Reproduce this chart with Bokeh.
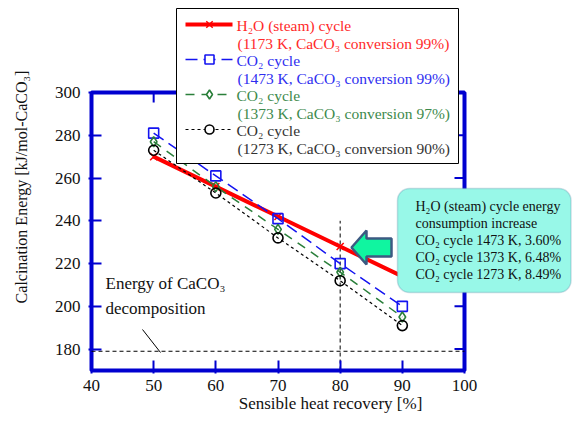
from bokeh.plotting import figure
from bokeh.models import Range1d, FixedTicker, BoxAnnotation
from bokeh.core.properties import value
from bokeh.embed import file_html
from bokeh.resources import INLINE

# ---------------- data ----------------
recovery = [50, 60, 70, 80, 90]
h2o_1173 = [270, 256, 242, 228, 214]
co2_1473 = [281, 261, 241, 220, 200]
co2_1373 = [277, 256, 236, 216, 195]
co2_1273 = [273, 253, 232, 212, 191]
x_ticks = [40, 50, 60, 70, 80, 90, 100]
y_ticks = [180, 200, 220, 240, 260, 280, 300]
decomp_energy = 179
ref_line_x = 80
ref_line_top = 240
legend_lines = [
    ("H₂O (steam) cycle", "(1173 K, CaCO₃ conversion 99%)"),
    ("CO₂ cycle", "(1473 K, CaCO₃ conversion 99%)"),
    ("CO₂ cycle", "(1373 K, CaCO₃ conversion 97%)"),
    ("CO₂ cycle", "(1273 K, CaCO₃ conversion 90%)"),
]
callout_lines = [
    "H₂O (steam) cycle energy",
    "consumption increase",
    "CO₂ cycle 1473 K, 3.60%",
    "CO₂ cycle 1373 K, 6.48%",
    "CO₂ cycle 1273 K, 8.49%",
]

# ---------------- helpers: canvas pixel -> data (decorations only) ----------------
def X(px):
    return 40 + (px - 91) * 60.0 / (464 - 91)

def Y(py):
    return 300 - (py - 92) * 130.0 / (370 - 92)

FRAME = "#0000D0"
SERIF = "Liberation Serif"
W, H = 572, 417

p = figure(width=W, height=H,
           x_range=Range1d(X(88), X(W)), y_range=Range1d(Y(373), Y(0)),
           output_backend="svg", toolbar_location=None,
           min_border_left=88, min_border_right=0, min_border_top=0, min_border_bottom=H - 373)
p.outline_line_color = None
p.xgrid.visible = False
p.ygrid.visible = False
p.background_fill_color = "white"
p.border_fill_color = "white"

for ax, ticks in ((p.xaxis, x_ticks), (p.yaxis, y_ticks)):
    ax.ticker = FixedTicker(ticks=ticks)
    ax.axis_line_color = None
    ax.major_tick_in = 13
    ax.major_tick_out = 0
    ax.major_tick_line_color = FRAME
    ax.major_tick_line_width = 2
    ax.minor_tick_line_color = None
    ax.major_label_text_font = SERIF
    ax.major_label_text_font_size = "17px"
    ax.major_label_text_color = "#111111"
    ax.axis_label_text_font = SERIF
    ax.axis_label_text_font_style = "normal"
    ax.axis_label_text_color = "#111111"

p.xaxis.major_label_standoff = 6
p.xaxis.axis_label = "Sensible heat recovery [%]"
p.xaxis.axis_label_text_font_size = "17px"
p.xaxis.axis_label_standoff = 0
p.xaxis.bounds = (39.9, 103.16)

p.yaxis.major_label_standoff = 8
p.yaxis.axis_label = "Calcination Energy [kJ/mol-CaCO₃]"
p.yaxis.axis_label_text_font_size = "16px"
p.yaxis.axis_label_standoff = 22
p.yaxis.bounds = (175, 319.3)

# frame box (blue)
p.quad(left=[x_ticks[0]], right=[x_ticks[-1]], bottom=[170], top=[y_ticks[-1]],
       fill_color=None, line_color=FRAME, line_width=4)
# mirrored inward ticks on top and right
tick_dy = Y(92) - Y(102)
tick_dx = X(464) - X(454)
top_ticks = x_ticks[1:-1]
p.segment(x0=top_ticks, y0=[300] * len(top_ticks), x1=top_ticks,
          y1=[300 - tick_dy] * len(top_ticks), line_color=FRAME, line_width=2)
p.segment(x0=[100] * len(y_ticks), y0=y_ticks, x1=[100 - tick_dx] * len(y_ticks), y1=y_ticks,
          line_color=FRAME, line_width=2)

# reference lines
p.segment(x0=[40], y0=[decomp_energy], x1=[100], y1=[decomp_energy],
          line_color="black", line_width=1, line_dash="4 3")
p.segment(x0=[ref_line_x], y0=[170], x1=[ref_line_x], y1=[ref_line_top],
          line_color="black", line_width=1, line_dash="4 3")
p.segment(x0=[X(142)], y0=[Y(329)], x1=[X(160)], y1=[Y(352)], line_color="black", line_width=1)
p.text(x=[X(105), X(105)], y=[Y(283), Y(308)], text=["Energy of CaCO₃", "decomposition"],
       text_font=value(SERIF), text_font_size=value("17px"), text_color="#111111",
       text_baseline="middle", text_align="left")

# ---------------- series ----------------
series = [
    (h2o_1173, "#FF0000", 4, "solid", "x", 10, "#FF2A2A"),
    (co2_1473, "#1414F0", 1.5, "12 6", "square", 10, "#2E2EF0"),
    (co2_1373, "#2A7F3A", 1.5, "9 7", "diamond", 10, "#3D8A4C"),
    (co2_1273, "#000000", 1.2, "3 3", "circle", 10, "#333333"),
]
for vals, col, lw, dash, mk, sz, _ in series:
    p.line(recovery, vals, line_color=col, line_width=lw, line_dash=dash)
    p.scatter(recovery, vals, marker=mk, size=sz, line_color=col, fill_color=None,
              line_width=1.6 if mk != "x" else 1.5)

# ---------------- legend (drawn) ----------------
p.quad(left=[X(176)], right=[X(458)], bottom=[Y(163)], top=[Y(8)],
       fill_color="white", line_color="black", line_width=1)
row_y = [24, 59, 94, 129]
for (vals, col, lw, dash, mk, sz, tcol), ry, (l1, l2) in zip(series, row_y, legend_lines):
    p.line([X(185), X(232)], [Y(ry), Y(ry)], line_color=col, line_width=lw, line_dash=dash)
    p.scatter([X(209)], [Y(ry)], marker=mk, size=sz - 1, line_color=col,
              fill_color="white" if mk != "x" else None, line_width=1.6 if mk != "x" else 1.5)
    p.text(x=[X(236), X(237)], y=[Y(ry + 1), Y(ry + 19)], text=[l1, l2],
           text_font=value(SERIF), text_font_size=value("15.5px"), text_color=tcol,
           text_baseline="middle", text_align="left")

# ---------------- callout ----------------
p.add_layout(BoxAnnotation(left=X(397), right=X(W - 1.5), top=Y(188), bottom=Y(292),
                           fill_color="#98F8E8", fill_alpha=1.0, line_color="#5F8FA8",
                           line_width=1.5, border_radius=12, level="annotation"))
arrow_px = [(351, 247), (366, 230), (366, 238), (391, 238), (391, 256), (366, 256), (366, 264)]
p.patch([X(a) for a, b in arrow_px], [Y(b) for a, b in arrow_px],
        fill_color="#10F5A0", line_color="#3C5A82", line_width=2.5)
cy = [206, 223, 240, 257, 274]
p.text(x=[X(415)] * len(callout_lines), y=[Y(v) for v in cy], text=callout_lines,
       text_font=value(SERIF), text_font_size=value("14px"), text_color="#111111",
       text_baseline="middle", text_align="left", level="overlay")

open("out.html", "w").write(file_html(p, INLINE))
